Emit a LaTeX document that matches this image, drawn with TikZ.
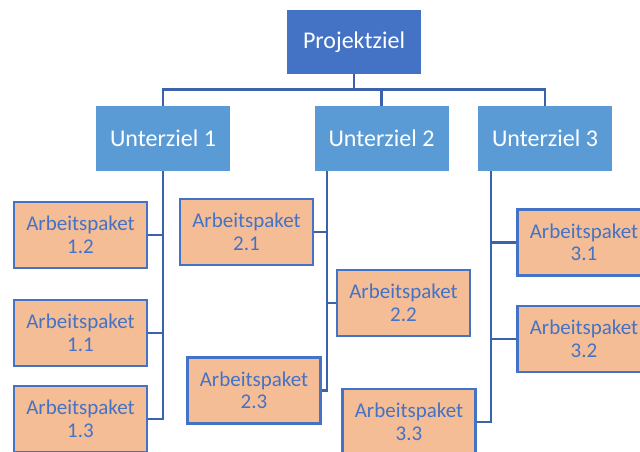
\documentclass[tikz,border=0pt]{standalone}
\usepackage{fontspec}
\setmainfont{Carlito}
\definecolor{zielblau}{HTML}{4472C4}
\definecolor{unterblau}{HTML}{5B9BD5}
\definecolor{linienblau}{HTML}{3B62AC}
\definecolor{paketfill}{HTML}{F5BD96}
\begin{document}
\begin{tikzpicture}[x=1pt,y=-1pt,
ziel/.style={fill=zielblau, text=white, minimum width=134pt, minimum height=64pt, font=\fontsize{24}{26}\selectfont},
unterziel/.style={fill=unterblau, text=white, minimum width=134pt, minimum height=65pt, font=\fontsize{24}{26}\selectfont},
paket/.style={draw=zielblau, line width=2.4pt, fill=paketfill, text=zielblau, align=center, minimum width=133pt, minimum height=66pt, inner sep=0pt, font=\fontsize{21}{22.5}\selectfont},
verbinder/.style={draw=linienblau, line width=2.8pt},]
\clip (0,0) rectangle (640,452);
\node[ziel] (ziel) at (354,42) {Projektziel};
\node[unterziel] (u1) at (163,138.5) {Unterziel 1};
\node[unterziel] (u2) at (381.5,138.5) {Unterziel 2};
\node[unterziel] (u3) at (545,138.5) {Unterziel 3};
\node[paket] (a12) at (80.5,235) {Arbeitspaket\\1.2};
\node[paket] (a11) at (80.5,333) {Arbeitspaket\\1.1};
\node[paket] (a13) at (80.5,419) {Arbeitspaket\\1.3};
\node[paket] (a21) at (246.5,232) {Arbeitspaket\\2.1};
\node[paket] (a22) at (403.5,303) {Arbeitspaket\\2.2};
\node[paket] (a23) at (254,390.5) {Arbeitspaket\\2.3};
\node[paket] (a31) at (584,242.5) {Arbeitspaket\\3.1};
\node[paket] (a32) at (584,339) {Arbeitspaket\\3.2};
\node[paket] (a33) at (409,422) {Arbeitspaket\\3.3};
% Verbindungen
\draw[verbinder] (ziel.south) -- ++(0,15.5) coordinate (bus);
\draw[verbinder] (u1.north) |- (bus) -| (u3.north);
\draw[verbinder] (u2.north) -- (u2.north |- bus);
\draw[verbinder] (u1.south) |- (a12.east);
\draw[verbinder] (u1.south) |- (a11.east);
\draw[verbinder] (u1.south) |- (a13.east);
\draw[verbinder] ([xshift=-54.5]u2.south) |- (a21.east);
\draw[verbinder] ([xshift=-54.5]u2.south) |- (a22.west);
\draw[verbinder] ([xshift=-54.5]u2.south) |- (a23.east);
\draw[verbinder] ([xshift=-54]u3.south) |- (a31.west);
\draw[verbinder] ([xshift=-54]u3.south) |- (a32.west);
\draw[verbinder] ([xshift=-54]u3.south) |- (a33.east);
\end{tikzpicture}
\end{document}
